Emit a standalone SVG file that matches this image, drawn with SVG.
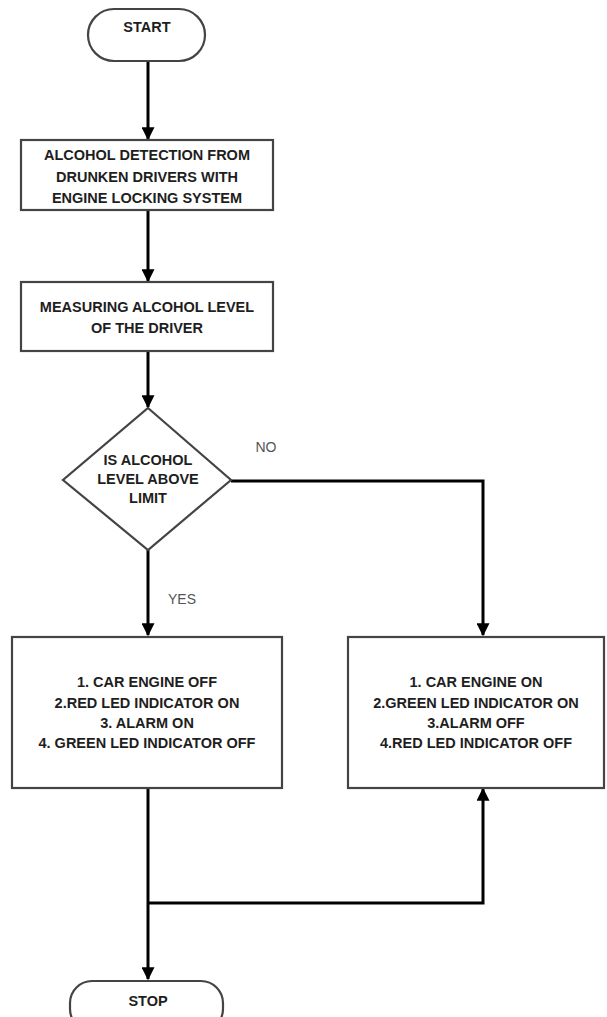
<svg xmlns="http://www.w3.org/2000/svg" width="607" height="1017" viewBox="0 0 607 1017">
<defs>
<marker id="ah" markerWidth="13" markerHeight="13" refX="9" refY="5" orient="auto" markerUnits="userSpaceOnUse" viewBox="0 0 10 10">
<path d="M0,0 L10,5 L0,10 z" fill="#000"/>
</marker>
</defs>
<style>
.shape{fill:#fff;stroke:#444;stroke-width:2.2}
.t{font-family:"Liberation Sans",Arial,sans-serif;font-weight:bold;font-size:14.5px;fill:#1e1e1e;text-anchor:middle}
.lbl{font-family:"Liberation Sans",Arial,sans-serif;font-size:14px;fill:#555;text-anchor:middle}
.c{fill:none;stroke:#000;stroke-width:3}
.ca{fill:none;stroke:#000;stroke-width:3;marker-end:url(#ah)}
</style>
<rect width="607" height="1017" fill="#fff"/>
<g id="connectors">
<line class="ca" x1="148" y1="62" x2="148" y2="139"/>
<line class="ca" x1="148" y1="210" x2="148" y2="281"/>
<line class="ca" x1="148" y1="351" x2="148" y2="407"/>
<line class="ca" x1="148" y1="550" x2="148" y2="635"/>
<polyline class="ca" points="231,481 483,481 483,635"/>
<line class="ca" x1="148" y1="788" x2="148" y2="979"/>
<polyline class="ca" points="148,903 483,903 483,789"/>
</g>
<g id="label-no"><text class="lbl" x="266" y="452">NO</text></g>
<g id="label-yes"><text class="lbl" x="182" y="604">YES</text></g>
<g id="start">
<rect class="shape" x="88" y="9" width="117" height="52" rx="26" ry="26"/>
<text class="t" x="147" y="32" font-size="13">START</text>
</g>
<g id="box1">
<rect class="shape" x="21" y="140" width="252" height="70"/>
<text class="t" x="147" y="160">ALCOHOL DETECTION FROM</text>
<text class="t" x="147" y="182">DRUNKEN DRIVERS WITH</text>
<text class="t" x="147" y="203">ENGINE LOCKING SYSTEM</text>
</g>
<g id="box2">
<rect class="shape" x="21" y="282" width="252" height="69"/>
<text class="t" x="147" y="312">MEASURING ALCOHOL LEVEL</text>
<text class="t" x="147" y="333">OF THE DRIVER</text>
</g>
<g id="decision">
<polygon class="shape" points="148,408 231,480 148,550 63,480"/>
<text class="t" x="148" y="465">IS ALCOHOL</text>
<text class="t" x="148" y="484">LEVEL ABOVE</text>
<text class="t" x="148" y="503">LIMIT</text>
</g>
<g id="box-yes">
<rect class="shape" x="12" y="637" width="270" height="151"/>
<text class="t" x="147" y="687">1. CAR ENGINE OFF</text>
<text class="t" x="147" y="708">2.RED LED INDICATOR ON</text>
<text class="t" x="147" y="728">3. ALARM ON</text>
<text class="t" x="147" y="748">4. GREEN LED INDICATOR OFF</text>
</g>
<g id="box-no">
<rect class="shape" x="348" y="637" width="256" height="151"/>
<text class="t" x="476" y="687">1. CAR ENGINE ON</text>
<text class="t" x="476" y="708">2.GREEN LED INDICATOR ON</text>
<text class="t" x="476" y="728">3.ALARM OFF</text>
<text class="t" x="476" y="748">4.RED LED INDICATOR OFF</text>
</g>
<g id="stop">
<rect class="shape" x="70" y="981" width="153" height="50" rx="22" ry="22"/>
<text class="t" x="148" y="1006" font-size="13">STOP</text>
</g>
</svg>
